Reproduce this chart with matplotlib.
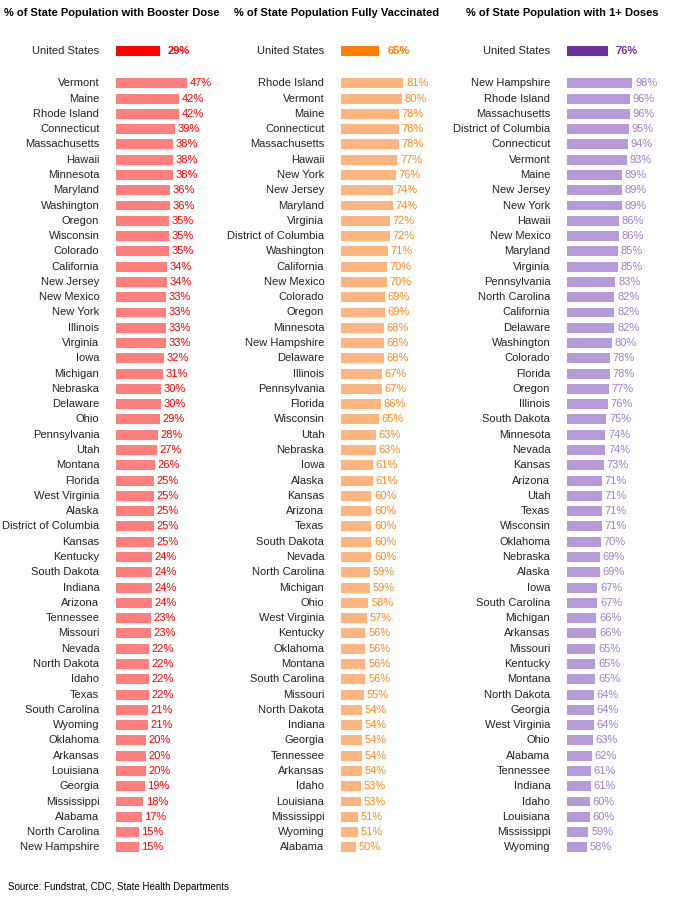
import matplotlib
matplotlib.use("Agg")
import matplotlib.pyplot as plt
from matplotlib import font_manager

names = [f.name for f in font_manager.fontManager.ttflist]
FONT = "Liberation Sans Narrow" if "Liberation Sans Narrow" in names else "Liberation Sans"
plt.rcParams["font.family"] = FONT

# booster dose
booster_states = ["Vermont", "Maine", "Rhode Island", "Connecticut", "Massachusetts", "Hawaii", "Minnesota",
                  "Maryland", "Washington", "Oregon", "Wisconsin", "Colorado", "California", "New Jersey",
                  "New Mexico", "New York", "Illinois", "Virginia", "Iowa", "Michigan", "Nebraska", "Delaware",
                  "Ohio", "Pennsylvania", "Utah", "Montana", "Florida", "West Virginia", "Alaska",
                  "District of Columbia", "Kansas", "Kentucky", "South Dakota", "Indiana", "Arizona", "Tennessee",
                  "Missouri", "Nevada", "North Dakota", "Idaho", "Texas", "South Carolina", "Wyoming", "Oklahoma",
                  "Arkansas", "Louisiana", "Georgia", "Mississippi", "Alabama", "North Carolina", "New Hampshire"]
booster_vals = [47, 42, 42, 39, 38, 38, 38, 36, 36, 35, 35, 35, 34, 34, 33, 33, 33, 33, 32, 31, 30, 30, 29, 28,
                27, 26, 25, 25, 25, 25, 25, 24, 24, 24, 24, 23, 23, 22, 22, 22, 22, 21, 21, 20, 20, 20, 19, 18,
                17, 15, 15]
booster_us = 29

# fully vaccinated
full_states = ["Rhode Island", "Vermont", "Maine", "Connecticut", "Massachusetts", "Hawaii", "New York",
               "New Jersey", "Maryland", "Virginia", "District of Columbia", "Washington", "California",
               "New Mexico", "Colorado", "Oregon", "Minnesota", "New Hampshire", "Delaware", "Illinois",
               "Pennsylvania", "Florida", "Wisconsin", "Utah", "Nebraska", "Iowa", "Alaska", "Kansas", "Arizona",
               "Texas", "South Dakota", "Nevada", "North Carolina", "Michigan", "Ohio", "West Virginia",
               "Kentucky", "Oklahoma", "Montana", "South Carolina", "Missouri", "North Dakota", "Indiana",
               "Georgia", "Tennessee", "Arkansas", "Idaho", "Louisiana", "Mississippi", "Wyoming", "Alabama"]
full_vals = [81, 80, 78, 78, 78, 77, 76, 74, 74, 72, 72, 71, 70, 70, 69, 69, 68, 68, 68, 67, 67, 66, 65, 63,
             63, 61, 61, 60, 60, 60, 60, 60, 59, 59, 58, 57, 56, 56, 56, 56, 55, 54, 54, 54, 54, 54, 53, 53,
             51, 51, 50]
full_us = 65

# 1+ doses
one_states = ["New Hampshire", "Rhode Island", "Massachusetts", "District of Columbia", "Connecticut", "Vermont",
              "Maine", "New Jersey", "New York", "Hawaii", "New Mexico", "Maryland", "Virginia", "Pennsylvania",
              "North Carolina", "California", "Delaware", "Washington", "Colorado", "Florida", "Oregon",
              "Illinois", "South Dakota", "Minnesota", "Nevada", "Kansas", "Arizona", "Utah", "Texas",
              "Wisconsin", "Oklahoma", "Nebraska", "Alaska", "Iowa", "South Carolina", "Michigan", "Arkansas",
              "Missouri", "Kentucky", "Montana", "North Dakota", "Georgia", "West Virginia", "Ohio", "Alabama",
              "Tennessee", "Indiana", "Idaho", "Louisiana", "Mississippi", "Wyoming"]
one_vals = [98, 96, 96, 95, 94, 93, 89, 89, 89, 86, 86, 85, 85, 83, 82, 82, 82, 80, 78, 78, 77, 76, 75, 74, 74,
            73, 71, 71, 71, 71, 70, 69, 69, 67, 67, 66, 66, 65, 65, 65, 64, 64, 64, 63, 62, 61, 61, 60, 60, 59, 58]
one_us = 76

W, H = 673, 901
fig = plt.figure(figsize=(W / 100, H / 100), dpi=100)

top_px, bot_px = 42, 855
panels = [
    ("% of State Population with Booster Dose", booster_states, booster_vals, booster_us,
     116, 110, 0, 1.5, "#FF0000", "#FF7F7F", "#FF0000", 112),
    ("% of State Population Fully Vaccinated", full_states, full_vals, full_us,
     341, 110, 40, 1.52, "#FF7F00", "#FFB57F", "#FF8C1A", 337),
    ("% of State Population with 1+ Doses", one_states, one_vals, one_us,
     567, 100, 40, 1.125, "#7030A0", "#B79BD9", "#A07FD0", 562),
]

for title, states, vals, us, x0, wpx, xmin, ppp, c_us, c_bar, c_txt, tx in panels:
    ax = fig.add_axes([x0 / W, 1 - bot_px / H, wpx / W, (bot_px - top_px) / H])
    ax.set_xlim(xmin, xmin + wpx / ppp)
    ax.set_ylim(50.5, -2.7)
    ax.axis("off")
    ys = list(range(len(states)))
    ax.barh(ys, [v - xmin for v in vals], left=xmin, height=0.65, color=c_bar)
    ax.barh([-2.1], [us - xmin], left=xmin, height=0.65, color=c_us)
    for y, s, v in zip(ys, states, vals):
        ax.annotate(s, (xmin, y), xytext=(-12, 0), textcoords="offset points",
                    ha="right", va="center", fontsize=8, color="#222222")
        ax.annotate(f"{v}%", (v, y), xytext=(2, 0), textcoords="offset points",
                    ha="left", va="center", fontsize=8, color=c_txt)
    ax.annotate("United States", (xmin, -2.1), xytext=(-12, 0), textcoords="offset points",
                ha="right", va="center", fontsize=8, color="#222222")
    ax.annotate(f"{us}%", (us, -2.1), xytext=(6, 0), textcoords="offset points",
                ha="left", va="center", fontsize=8, color=c_us, fontweight="bold")
    fig.text(tx / W, 1 - 13 / H, title, ha="center", va="center", fontsize=8, fontweight="bold")

fig.text(8 / W, 1 - 887 / H, "Source: Fundstrat, CDC, State Health Departments", ha="left", va="center", fontsize=7)
fig.savefig("out.png", dpi=100, facecolor="white")
